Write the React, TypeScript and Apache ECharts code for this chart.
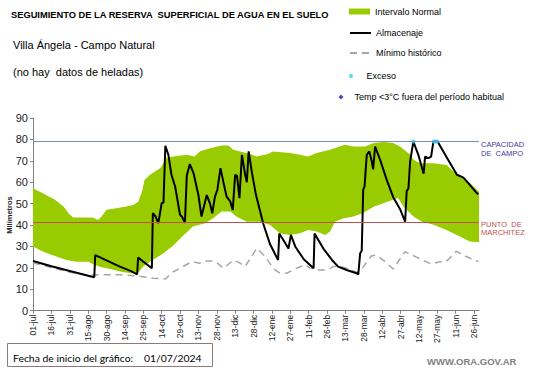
import React, { useEffect, useRef } from "react";
import * as echarts from "echarts";

// Day offsets from 01-jul-2024; tick labels every 15 days
const xTickLabels = [
  "01-jul", "16-jul", "31-jul", "15-ago", "30-ago", "14-sep", "29-sep", "14-oct", "29-oct",
  "13-nov", "28-nov", "13-dic", "28-dic", "12-ene", "27-ene", "11-feb", "26-feb", "13-mar",
  "28-mar", "12-abr", "27-abr", "12-may", "27-may", "11-jun", "26-jun",
];
const tickStep = 15;
const lastDay = 364;

const capacidadCampo = 79;
const puntoMarchitez = 41.3;

// [day, mm]
const normalUpper: [number, number][] = [
  [0, 57.2], [8, 54.9], [18, 51.8], [25, 48.6], [30, 44.8], [33, 43.5], [42, 43.5], [49, 43.5],
  [53, 42.4], [56, 44], [60, 47.1], [68, 47.9], [75, 48.6], [82, 49.4], [86, 51], [89, 55.7],
  [91, 61.1], [95.5, 63.5], [104, 66.6], [109, 71.3], [114.5, 72], [125.5, 72.8], [132, 72],
  [136, 74.4], [144.5, 75.9], [154, 77.2], [159.5, 77.2], [163.5, 75.2], [169, 74.4], [177, 73.3],
  [182.5, 72], [191, 73.1], [196, 74.4], [210, 73.6], [218, 72.8], [224.5, 72], [231.5, 73.6],
  [242.5, 75.2], [254.5, 77.5], [261.5, 76.7], [271, 76.7], [278, 78.3], [286, 78.8], [294, 78.3],
  [299.5, 76.7], [308, 72.8], [310.5, 70.5], [316, 68.9], [327, 68.9], [337.5, 68.1], [346, 63.5],
  [356.5, 59.6], [364, 55.5],
];

const normalLower: [number, number][] = [
  [0, 30], [8, 27.6], [19, 25.3], [27.5, 23.7], [35.5, 22.9], [45, 22.9], [50, 21.5], [56, 20.3],
  [63, 19.5], [72, 18.2], [80, 17.5], [86, 17.8], [90, 20.6], [95.5, 22.9], [106.5, 26.8],
  [114.5, 30.5], [122.5, 35], [130.5, 39.3], [140.5, 40.9], [147, 43.2], [154, 46.3], [161, 46.3],
  [166, 44], [174.5, 41.6], [185, 41.6], [193.5, 40], [201.5, 36.2], [209.5, 35.4], [218, 36.2],
  [224.5, 37.7], [231.5, 37], [238.5, 35.4], [242.5, 37], [246.5, 41.6], [253.5, 43.2],
  [261.5, 44], [269.5, 45.6], [278, 48.6], [286, 50.2], [294, 51.8], [298, 52.6], [302.5, 48.6],
  [310.5, 44], [317.5, 41.6], [327, 40.1], [337.5, 37.7], [348.5, 34.6], [356.5, 32.3], [364, 32],
];

const minimoHistorico: [number, number][] = [
  [0, 22.3], [15, 20.2], [30, 18], [45, 16.6], [55, 16.8], [70, 16.8], [85, 16.2], [98, 15.2],
  [108, 14.8], [114.5, 18.2], [122.5, 20.6], [129.5, 22.9], [136, 22.2], [140.5, 23.2],
  [147, 23.2], [151, 22], [155.5, 19.8], [163.5, 23.7], [169, 22.2], [173, 20.6], [178.5, 25.3],
  [182.5, 29.2], [189.5, 25.3], [196, 19.8], [201.5, 17.5], [207, 17.5], [215, 19.8], [222, 21.4],
  [226, 20], [231.5, 19], [240, 19], [245, 20.6], [250.5, 20.6], [256, 19.8], [264, 18],
  [267, 18.5], [276, 25.5], [280, 26], [286, 23.5], [294, 19.5], [303.5, 27.6], [313, 25],
  [325, 21.8], [332, 22.9], [337, 22.8], [345.5, 27.8], [353.5, 25.3], [363.5, 22.9],
];

const almacenaje: [number, number][] = [
  [0, 23.2], [15, 20.8], [30, 18.5], [45, 16.3], [50, 15.6], [50.8, 26], [60, 23.5], [70, 20.8],
  [80, 18.5], [85, 17], [85.8, 24.8], [97, 19.8], [97.8, 45.6], [100, 44], [102.3, 40.9],
  [105, 50.2], [106.5, 50.5], [108, 77], [110.5, 72.8], [113, 63.5], [116, 58], [120, 44.8],
  [121.5, 44], [124, 41], [125.5, 63], [128, 68.5], [131, 64.3], [135, 54], [137.5, 44],
  [141.8, 54], [144.5, 50], [146.3, 45.5], [148.5, 53.3], [150.5, 56.5], [153, 66.6],
  [155.3, 60.3], [158, 53.3], [161, 51], [163, 47], [165, 63.5], [166.5, 63], [168.5, 52.6],
  [170.5, 72.8], [173, 64], [174.5, 60], [176, 74.4], [178.8, 64], [182, 54], [188, 40.5],
  [193.5, 31], [200, 23.7], [201, 36], [204.3, 33], [208.5, 29], [210.5, 35.4], [214, 30],
  [221, 24], [229, 19.8], [229.8, 36], [237, 29], [244, 23.7], [249, 20.6], [256, 19],
  [264, 17.5], [265.5, 17], [267, 26.8], [268.3, 28], [269.5, 56.5], [270.6, 58], [272.4, 72.8],
  [274.5, 74.4], [276.5, 69.7], [277.6, 66], [279.2, 76.7], [280.6, 74.5], [283.3, 70.5],
  [288.7, 61.1], [294, 53], [299.5, 47.5], [303.7, 41.6], [305, 56], [306.4, 57], [307.8, 69.7],
  [310.4, 79], [314.5, 72.8], [318.8, 64], [320, 72], [322.7, 71.3], [324.9, 72], [326.8, 79],
  [330.2, 79], [337.7, 71.5], [346, 63.5], [350, 62.5], [351.5, 62], [355.3, 59.6],
  [362.2, 54.9], [363.5, 54.5],
];

const exceso: [number, number][] = [[310.4, 79], [327, 79], [328.5, 79], [330, 79]];
const tempFueraPeriodo: [number, number][] = [];

const FONT = "Liberation Sans";

export default function App() {
  const ref = useRef<HTMLDivElement>(null);

  useEffect(() => {
    if (!ref.current) return;
    const chart = echarts.init(ref.current, null, { renderer: "svg" });
    const tickValues = xTickLabels.map((_, i) => i * tickStep);
    const hiddenSymbol = { color: "rgba(0,0,0,0)", borderWidth: 0, borderColor: "rgba(0,0,0,0)" };

    const legendBase = (item: any, left: number, top: number, w: number, h: number, textPad = 0) => ({
      orient: "vertical",
      left,
      top,
      padding: 0,
      itemWidth: w,
      itemHeight: h,
      selectedMode: false,
      textStyle: { fontSize: 9, fontFamily: FONT, color: "#000", padding: [0, 0, 0, textPad] },
      data: [item],
    });

    chart.setOption({
      animation: false,
      textStyle: { fontFamily: FONT },
      grid: { left: 33, right: 62, top: 118, bottom: 57.3, containLabel: false, outerBoundsMode: "none" },
      legend: [
        legendBase({ name: "Intervalo Normal", icon: "rect" }, 349, 7, 21, 6),
        legendBase({ name: "Almacenaje", itemStyle: hiddenSymbol }, 349, 28.5, 21, 8),
        legendBase({ name: "Mínimo histórico", itemStyle: hiddenSymbol }, 349, 48.5, 21, 8),
        legendBase({ name: "Exceso", icon: "circle" }, 349, 71.5, 21, 4),
        legendBase({ name: "Temp <3°C fuera del período habitual", icon: "diamond" }, 338.5, 92.5, 5, 5, 6),
      ],
      xAxis: {
        type: "value",
        min: 0,
        max: lastDay,
        interval: tickStep,
        splitLine: { show: false },
        axisLine: { show: true, lineStyle: { color: "#7f7f7f", width: 1 } },
        axisTick: { show: true, length: 3, customValues: tickValues, lineStyle: { color: "#7f7f7f" } },
        axisLabel: {
          rotate: 90,
          fontSize: 8.5,
          color: "#222",
          margin: 4,
          customValues: tickValues,
          formatter: (v: number) => xTickLabels[Math.round(v / tickStep)] ?? "",
        },
      },
      yAxis: {
        type: "value",
        min: 0,
        max: 90,
        interval: 10,
        splitLine: { show: false },
        axisLine: { show: true, lineStyle: { color: "#7f7f7f", width: 1 } },
        axisTick: { show: true, length: 3, lineStyle: { color: "#7f7f7f" } },
        axisLabel: { fontSize: 11, color: "#222", margin: 5 },
      },
      series: [
        {
          type: "custom",
          name: "Intervalo Normal",
          coordinateSystem: "cartesian2d",
          data: [[0, 0]],
          silent: true,
          z: 1,
          itemStyle: { color: "#99cc00" },
          renderItem: (params: any, api: any) => {
            const pts = [
              ...normalUpper.map((p) => api.coord(p)),
              ...normalLower.slice().reverse().map((p) => api.coord(p)),
            ];
            return { type: "polygon", shape: { points: pts }, style: { fill: "#99cc00", stroke: null } };
          },
        },
        {
          type: "line",
          name: "Mínimo histórico",
          data: minimoHistorico,
          symbol: "none",
          z: 2,
          itemStyle: { color: "#a6a6a6" },
          lineStyle: { color: "#a6a6a6", width: 1.5, type: [7, 5] },
          markLine: {
            silent: true,
            symbol: "none",
            label: { show: false },
            data: [
              { yAxis: capacidadCampo, lineStyle: { color: "#6f8fc9", width: 1, type: "solid" } },
              { yAxis: puntoMarchitez, lineStyle: { color: "#c0504d", width: 1.2, type: "solid" } },
            ],
          },
        },
        {
          type: "line",
          name: "Almacenaje",
          data: almacenaje,
          symbol: "none",
          z: 3,
          itemStyle: { color: "#000" },
          lineStyle: { color: "#000", width: 2 },
        },
        {
          type: "scatter",
          name: "Exceso",
          data: exceso,
          symbol: "circle",
          symbolSize: 4,
          z: 4,
          itemStyle: { color: "#33ccee" },
        },
        {
          type: "scatter",
          name: "Temp <3°C fuera del período habitual",
          data: tempFueraPeriodo,
          symbol: "diamond",
          symbolSize: 5,
          itemStyle: { color: "#1f1fa0" },
        },
      ],
      graphic: [
        {
          type: "text", x: 11, y: 15,
          style: { text: "SEGUIMIENTO DE LA RESERVA  SUPERFICIAL DE AGUA EN EL SUELO", fontSize: 9.3, fontWeight: "bold", fontFamily: FONT, fill: "#000", verticalAlign: "middle" },
        },
        {
          type: "text", x: 13, y: 45,
          style: { text: "Villa Ángela - Campo Natural", fontSize: 11, fontFamily: FONT, fill: "#000", verticalAlign: "middle" },
        },
        {
          type: "text", x: 13, y: 72,
          style: { text: "(no hay  datos de heladas)", fontSize: 11, fontFamily: FONT, fill: "#000", verticalAlign: "middle" },
        },
        {
          type: "text", x: 9.5, y: 215, rotation: Math.PI / 2,
          style: { text: "Milímetros", fontSize: 7.5, fontWeight: "bold", fontFamily: FONT, fill: "#222", align: "center", verticalAlign: "middle" },
        },
        {
          type: "text", x: 481, y: 139.5,
          style: { text: "CAPACIDAD\nDE  CAMPO", fontSize: 7.5, lineHeight: 9.4, fontFamily: FONT, fill: "#3c3ca8", verticalAlign: "top" },
        },
        {
          type: "text", x: 481, y: 220,
          style: { text: "PUNTO  DE\nMARCHITEZ", fontSize: 7.5, lineHeight: 8.6, fontFamily: FONT, fill: "#c0504d", verticalAlign: "top" },
        },
        {
          type: "rect", shape: { x: 7.5, y: 343.5, width: 205, height: 23 },
          style: { fill: "#fff", stroke: "#8a7a7a", lineWidth: 1 },
        },
        {
          type: "text", x: 13, y: 358,
          style: { text: "Fecha de inicio del gráfico:", fontSize: 10.4, fontFamily: "Lato", fill: "#000", verticalAlign: "middle" },
        },
        {
          type: "text", x: 144, y: 358,
          style: { text: "01/07/2024", fontSize: 10.4, fontFamily: "Lato", fill: "#000", verticalAlign: "middle" },
        },
        {
          type: "text", x: 427, y: 361,
          style: { text: "WWW.ORA.GOV.AR", fontSize: 9.5, fontWeight: "bold", fontFamily: FONT, fill: "#808080", verticalAlign: "middle" },
        },
      ],
    });

    return () => chart.dispose();
  }, []);

  return (
    <div
      ref={ref}
      style={{ position: "fixed", left: 0, top: 0, width: 541, height: 368, background: "#fff" }}
    />
  );
}
